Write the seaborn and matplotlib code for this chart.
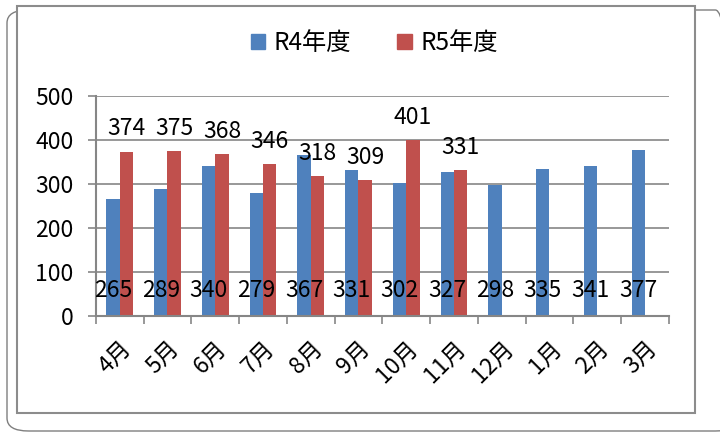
import numpy as np
import pandas as pd
import matplotlib
matplotlib.use("Agg")
import matplotlib.pyplot as plt
from matplotlib.patches import FancyBboxPatch, Rectangle
import seaborn as sns

months = ["4月", "5月", "6月", "7月", "8月", "9月", "10月", "11月", "12月", "1月", "2月", "3月"]
r4 = [265, 289, 340, 279, 367, 331, 302, 327, 298, 335, 341, 377]
r5 = [374, 375, 368, 346, 318, 309, 401, 331, np.nan, np.nan, np.nan, np.nan]
series = ["R4年度", "R5年度"]
colors = ["#4F81BD", "#C0504D"]

sns.set_theme(style="white")
plt.rcParams["font.family"] = ["Noto Sans CJK JP", "DejaVu Sans"]
plt.rcParams["text.color"] = "black"
plt.rcParams["xtick.labelcolor"] = "black"
plt.rcParams["ytick.labelcolor"] = "black"

df = pd.DataFrame({
    "month": months * 2,
    "value": r4 + r5,
    "series": [series[0]] * len(months) + [series[1]] * len(months),
})

fig = plt.figure(figsize=(7.2, 4.32), dpi=100)
ax = fig.add_axes([0.133, 0.2685, 0.796, 0.509])
ax.patch.set_alpha(0)

sns.barplot(data=df, x="month", y="value", hue="series", order=months,
            hue_order=series, palette=colors, width=0.56, saturation=1,
            ax=ax, legend=False, edgecolor="none")

ax.set_ylim(0, 500)
ax.set_xlim(-0.5, len(months) - 0.5)
ax.set_yticks(range(0, 501, 100))
ax.yaxis.grid(True, color="#868686", linewidth=1.2)
ax.set_axisbelow(True)
ax.set_xlabel("")
ax.set_ylabel("")

for s in ["top", "right"]:
    ax.spines[s].set_visible(False)
for s in ["left", "bottom"]:
    ax.spines[s].set_color("#868686")
    ax.spines[s].set_linewidth(1.5)

ax.tick_params(axis="y", length=6, width=1.2, color="#868686", pad=10,
               labelsize=16.5, left=True, labelcolor="black")
ax.set_xticks(range(len(months)))
ax.set_xticklabels(months, rotation=45, ha="right", rotation_mode="anchor",
                   fontsize=16.5, color="black")
ax.tick_params(axis="x", which="major", length=0, pad=15)
ax.set_xticks(np.arange(-0.5, len(months), 1.0), minor=True)
ax.tick_params(axis="x", which="minor", length=6, width=1.2, color="#868686",
               bottom=True)

# R4 labels near the base, R5 labels above bars
for bar, v in zip(ax.containers[0], r4):
    ax.text(bar.get_x() + bar.get_width() / 2, 58, f"{v}", ha="center",
            va="center", fontsize=16.5, color="black")
ax.bar_label(ax.containers[1], fmt="%d", padding=8, fontsize=16.5,
             color="black")

handles = [Rectangle((0, 0), 1, 1, color=c) for c in colors]
fig.legend(handles, series, loc="center", bbox_to_anchor=(0.52, 0.9),
           ncol=2, frameon=False, fontsize=17.5, handlelength=0.6,
           handleheight=0.6, handletextpad=0.35, columnspacing=1.9,
           labelcolor="black")

# chart frames
outer = FancyBboxPatch((7 / 720, 1 - 431 / 432), 730 / 720, 421 / 432,
                       boxstyle="round,pad=0,rounding_size=0.03",
                       transform=fig.transFigure, fill=False,
                       edgecolor="#7f7f7f", linewidth=1.0, zorder=-2)
fig.patches.append(outer)
inner = Rectangle((17 / 720, 1 - 413 / 432), 678 / 720, 407 / 432,
                  transform=fig.transFigure, facecolor="white",
                  edgecolor="#8c8c8c", linewidth=1.5, zorder=-1)
fig.patches.append(inner)

fig.savefig("out.png", dpi=100)
